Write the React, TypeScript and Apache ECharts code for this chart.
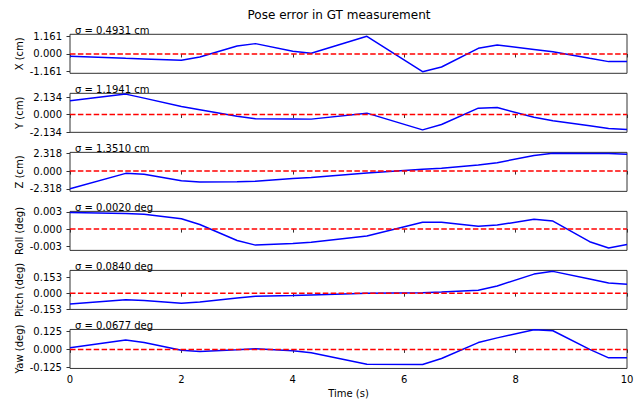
import React, { useEffect, useRef } from "react";
import * as echarts from "echarts";

const TIME = [0, 1, 1.33, 2, 2.33, 3, 3.33, 4, 4.33, 5.33, 6.33, 6.67, 7.33, 7.67, 8.33, 8.67, 9.33, 9.67, 10];
const X_ERR = [-0.15, -0.28, -0.32, -0.41, -0.2, 0.52, 0.68, 0.18, 0.05, 1.161, -1.161, -0.85, 0.37, 0.59, 0.3, 0.15, -0.28, -0.5, -0.49];
const Y_ERR = [1.67, 2.49, 2.0, 0.98, 0.59, -0.2, -0.52, -0.53, -0.56, 0.17, -1.87, -1.22, 0.78, 0.85, -0.34, -0.77, -1.38, -1.71, -1.83];
const Z_ERR = [-2.318, -0.3, -0.43, -1.27, -1.44, -1.4, -1.32, -0.96, -0.83, -0.26, 0.25, 0.38, 0.79, 1.09, 2.05, 2.318, 2.31, 2.3, 2.2];
const ROLL_ERR = [0.0029, 0.0027, 0.0026, 0.0018, 0.0008, -0.002, -0.0028, -0.0025, -0.0023, -0.0012, 0.0012, 0.0012, 0.0005, 0.0007, 0.0017, 0.0014, -0.0022, -0.0033, -0.0027];
const PITCH_ERR = [-0.104, -0.063, -0.069, -0.096, -0.085, -0.045, -0.03, -0.022, -0.017, 0.0, 0.003, 0.01, 0.028, 0.069, 0.182, 0.208, 0.135, 0.097, 0.085];
const YAW_ERR = [0.012, 0.066, 0.048, -0.006, -0.015, -0.002, 0.005, -0.01, -0.024, -0.104, -0.106, -0.064, 0.048, 0.081, 0.138, 0.131, 0.0, -0.059, -0.059];

const SERIES_VALUES = [X_ERR, Y_ERR, Z_ERR, ROLL_ERR, PITCH_ERR, YAW_ERR];
const AXIS_NAMES = ["X (cm)", "Y (cm)", "Z (cm)", "Roll (deg)", "Pitch (deg)", "Yaw (deg)"];
const SIGMA_LABELS = ["σ = 0.4931 cm", "σ = 1.1941 cm", "σ = 1.3510 cm", "σ = 0.0020 deg", "σ = 0.0840 deg", "σ = 0.0677 deg"];
const TICK_VALUES = [1.161, 2.134, 2.318, 0.003, 0.153, 0.125];
const Y_MIN = [-1.266, -2.17, -2.658, -0.00372, -0.155, -0.1336];
const Y_MAX = [1.292, 2.585, 2.449, 0.00309, 0.217, 0.14];
const X_RANGE = [0, 10];
const X_STEP = 2;
const ZERO_REF = 0;
const TITLE = "Pose error in GT measurement";
const X_NAME = "Time (s)";

const FONT = "DejaVu Sans";

export default function App() {
  const ref = useRef<HTMLDivElement>(null);
  useEffect(() => {
    if (!ref.current) return;
    const chart = echarts.init(ref.current, undefined, { renderer: "svg" });
    const left = 70;
    const right = 14;
    const top0 = 34.3;
    const step = 59.03;
    const h = 39;
    const n = SERIES_VALUES.length;
    const grids: any[] = [];
    const xAxes: any[] = [];
    const yAxes: any[] = [];
    const series: any[] = [];
    const graphics: any[] = [];
    for (let i = 0; i < n; i++) {
      const top = top0 + step * i;
      grids.push({
        left,
        right,
        top,
        height: h,
        show: true,
        borderColor: "#333",
        borderWidth: 1,
        backgroundColor: "transparent",
      });
      const last = i === n - 1;
      xAxes.push({
        type: "value",
        gridIndex: i,
        min: X_RANGE[0],
        max: X_RANGE[1],
        interval: X_STEP,
        axisLine: { show: false },
        axisTick: { show: true, inside: false, length: 3.5, lineStyle: { color: "#333", width: 1 } },
        axisLabel: { show: last, color: "#000", fontSize: 10, fontFamily: FONT, margin: 6 },
        splitLine: { show: false },
        name: last ? X_NAME : "",
        nameLocation: "middle",
        nameGap: 20,
        nameMoveOverlap: false,
        nameTextStyle: { color: "#000", fontSize: 10, fontFamily: FONT },
      });
      const m = TICK_VALUES[i];
      yAxes.push({
        type: "value",
        gridIndex: i,
        min: Y_MIN[i],
        max: Y_MAX[i],
        axisLine: { show: false },
        axisTick: { show: true, inside: false, length: 3.5, customValues: [-m, 0, m], lineStyle: { color: "#333", width: 1 } },
        axisLabel: {
          show: true,
          customValues: [-m, 0, m],
          color: "#000",
          fontSize: 10,
          fontFamily: FONT,
          margin: 8,
          formatter: (v: number) => (Math.abs(v) < 1e-12 ? "0.000" : v.toFixed(3)),
        },
        splitLine: { show: false },
        name: AXIS_NAMES[i],
        nameLocation: "middle",
        nameGap: 45.5,
        nameRotate: 90,
        nameMoveOverlap: false,
        nameTextStyle: { color: "#000", fontSize: 10, fontFamily: FONT },
      });
      series.push({
        type: "line",
        xAxisIndex: i,
        yAxisIndex: i,
        data: TIME.map((t, k) => [t, SERIES_VALUES[i][k]]),
        showSymbol: false,
        symbol: "none",
        clip: true,
        lineStyle: { color: "#0000ff", width: 1.5 },
        z: 2,
      });
      series.push({
        type: "line",
        xAxisIndex: i,
        yAxisIndex: i,
        data: X_RANGE.map((t) => [t, ZERO_REF]),
        showSymbol: false,
        symbol: "none",
        lineStyle: { color: "#ff0000", width: 1.5, type: [5.5, 2.4] },
        z: 3,
      });
      graphics.push({
        type: "text",
        x: 75,
        y: top + 1,
        style: {
          text: SIGMA_LABELS[i],
          fontSize: 10,
          fontFamily: FONT,
          fill: "#000",
          align: "left",
          verticalAlign: "bottom",
        },
      });
    }
    graphics.push({
      type: "text",
      x: 339,
      y: 14.5,
      style: {
        text: TITLE,
        fontSize: 12,
        fontFamily: FONT,
        fill: "#000",
        align: "center",
        verticalAlign: "middle",
      },
    });
    chart.setOption({
      animation: false,
      backgroundColor: "#fff",
      grid: grids,
      xAxis: xAxes,
      yAxis: yAxes,
      series,
      graphic: graphics,
    });
    return () => chart.dispose();
  }, []);
  return (
    <div
      ref={ref}
      style={{ position: "fixed", left: 0, top: 0, width: 641, height: 403 }}
    />
  );
}
